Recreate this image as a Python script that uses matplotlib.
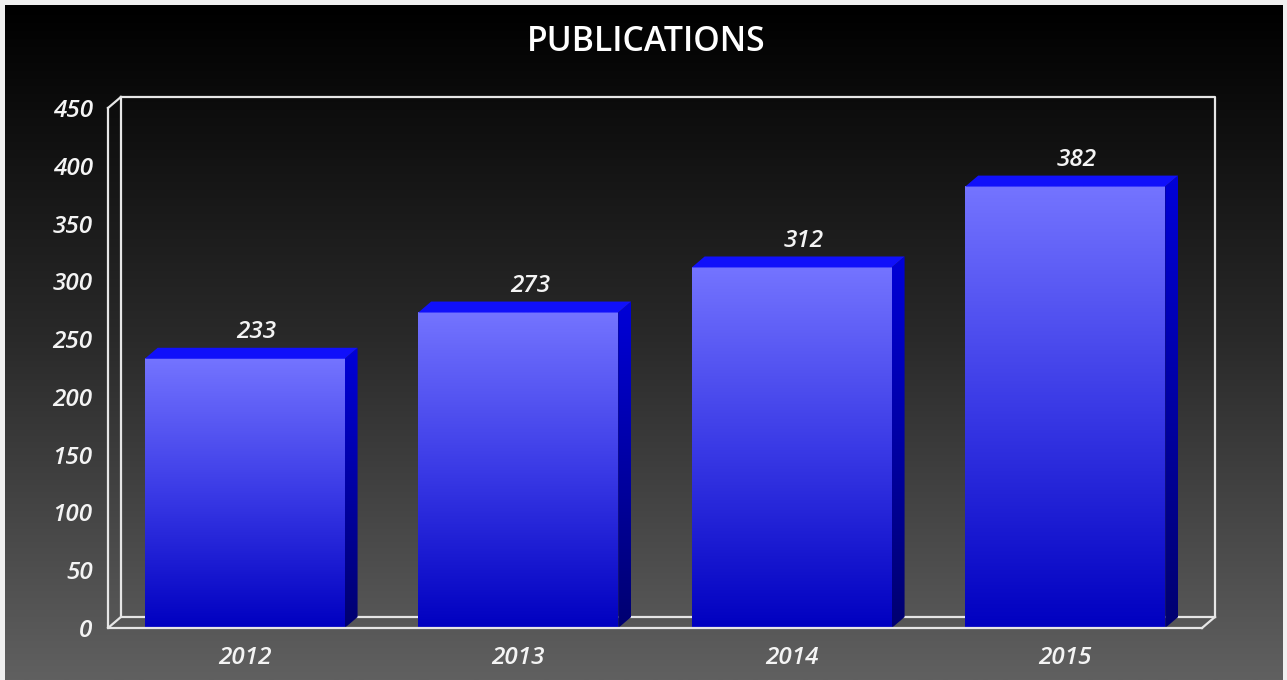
import numpy as np
import matplotlib.pyplot as plt
from matplotlib.colors import LinearSegmentedColormap
from matplotlib.patches import Polygon

years = ['2012', '2013', '2014', '2015']
pubs = [233, 273, 312, 382]
yticks = [0, 50, 100, 150, 200, 250, 300, 350, 400, 450]

W, H = 1287, 680
fig = plt.figure(figsize=(W / 100, H / 100), dpi=100, facecolor='#f0f0f0')

# dark background gradient
bg = fig.add_axes([5 / W, 0, 1278 / W, 675 / H])
bg.axis('off')
bgcmap = LinearSegmentedColormap.from_list('bg', ['#000000', '#2a2a2a', '#606060'])
bg.imshow(np.linspace(0, 1, 256).reshape(-1, 1), cmap=bgcmap, aspect='auto',
          extent=[0, 1, 0, 1], origin='upper')

ax = fig.add_axes([108 / W, 52 / H, 1094 / W, 520 / H])
ax.patch.set_alpha(0)
for s in ax.spines.values():
    s.set_visible(False)

dx, dy = 0.047, 9.5
bw = 0.731
x = np.arange(len(years))

wall = '#e6e6e6'
lw = 1.6
# back wall
ax.plot([-0.5 + dx, 3.5 + dx, 3.5 + dx], [450 + dy, 450 + dy, dy], color=wall, lw=lw, clip_on=False, zorder=1)
ax.plot([-0.5 + dx, -0.5 + dx, 3.5 + dx], [450 + dy, dy, dy], color=wall, lw=lw, clip_on=False, zorder=1)
# front edges
ax.plot([-0.5, -0.5, 3.5], [450, 0, 0], color=wall, lw=lw, clip_on=False, zorder=5)
for px, py in [(-0.5, 450), (-0.5, 0), (3.5, 0)]:
    ax.plot([px, px + dx], [py, py + dy], color=wall, lw=lw, clip_on=False, zorder=5)

front = LinearSegmentedColormap.from_list('f', ['#7474ff', '#3a3ae6', '#0000c0'])
side = LinearSegmentedColormap.from_list('s', ['#0000d8', '#000070'])
grad = np.linspace(0, 1, 256).reshape(-1, 1)

for i, v in enumerate(pubs):
    x0, x1 = x[i] - bw / 2, x[i] + bw / 2
    ax.imshow(grad, cmap=front, aspect='auto', extent=[x0, x1, 0, v],
              origin='upper', zorder=3)
    sp = Polygon([(x1, 0), (x1 + dx, dy), (x1 + dx, v + dy), (x1, v)],
                 closed=True, facecolor='none', edgecolor='none')
    ax.add_patch(sp)
    im = ax.imshow(grad, cmap=side, aspect='auto', extent=[x1, x1 + dx, 0, v + dy],
                   origin='upper', zorder=3)
    im.set_clip_path(sp)
    ax.add_patch(Polygon([(x0, v), (x0 + dx, v + dy), (x1 + dx, v + dy), (x1, v)],
                         closed=True, facecolor='#1010fa', edgecolor='none', zorder=3))
    ax.text(x[i] + dx / 2 + 0.02, v + dy + 3, str(v), color='#f4f4f4', fontsize=17.5,
            fontstyle='italic', fontweight='semibold', family='Open Sans',
            ha='center', va='bottom', zorder=6)

ax.set_xlim(-0.5, 3.5)
ax.set_ylim(0, 450)
ax.set_xticks(x)
ax.set_xticklabels(years)
ax.set_yticks(yticks)
ax.tick_params(axis='both', length=0, colors='white', labelsize=17.5)
ax.tick_params(axis='y', pad=11)
ax.tick_params(axis='x', pad=13)
for lab in ax.get_xticklabels() + ax.get_yticklabels():
    lab.set_fontstyle('italic')
    lab.set_fontweight('semibold')
    lab.set_family('Open Sans')
    lab.set_color('#f4f4f4')

fig.text(646 / W, 1 - 42 / H, 'PUBLICATIONS', color='white', fontsize=24.3,
         fontweight='semibold', family='Open Sans', ha='center', va='center')

fig.savefig('out.png', dpi=100, facecolor=fig.get_facecolor())
